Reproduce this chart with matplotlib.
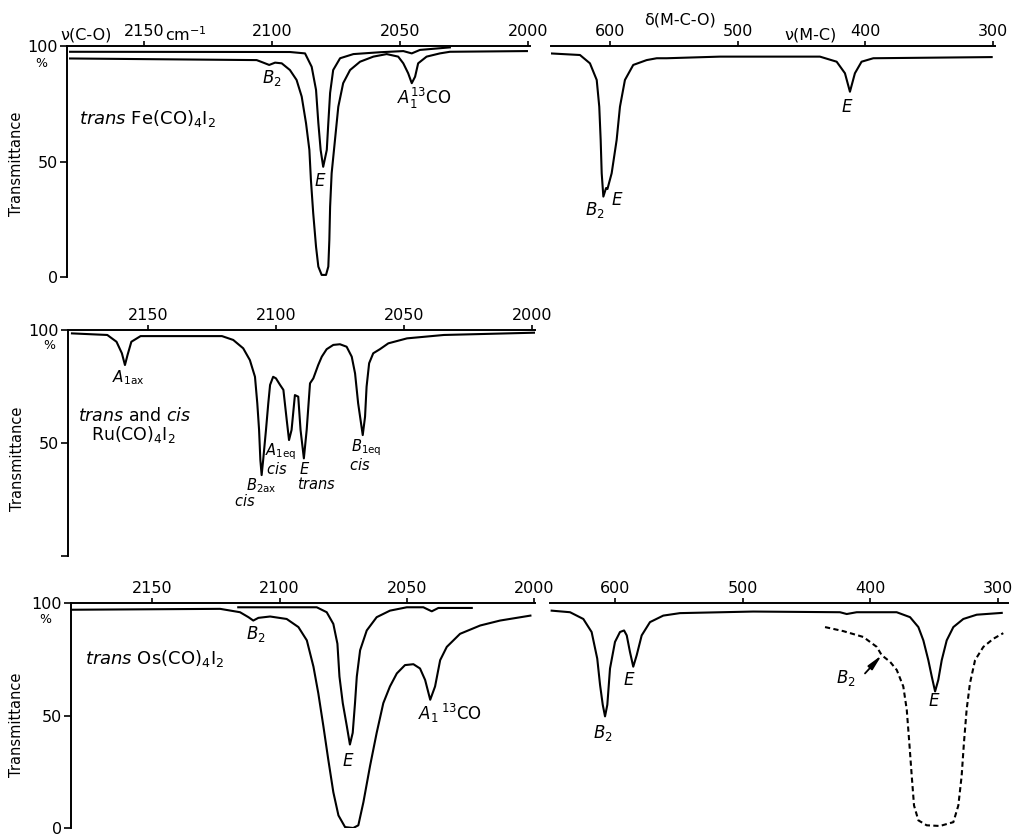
import matplotlib.pyplot as plt

plt.rcParams['font.family'] = ['DejaVu Sans']
plt.rcParams['mathtext.fontset'] = 'dejavusans'

# ---- values: wavenumber (cm-1) and transmittance (%) ----
T_TICKS = [0, 50, 100]
CO_TICKS = [2150, 2100, 2050, 2000]
LOW_TICKS = [600, 500, 400, 300]

# trans Fe(CO)4I2, C-O stretch: dilute trace (upper) and strong trace (lower)
fe_co_dil_wn = [2178.9, 2093.0, 2087.1, 2084.5, 2082.8, 2081.9, 2081.0, 2080.0, 2078.6, 2078.0,
                2077.3, 2076.1, 2073.4, 2068.2, 2057.8, 2048.7, 2045.4, 2042.2, 2030.5]
fe_co_dil_t = [97.5, 97.4, 96.8, 91.0, 81.0, 66.7, 55.0, 47.7, 55.0, 66.7,
               79.7, 89.6, 94.7, 96.5, 97.3, 97.8, 96.8, 98.3, 99.4]
fe_co_wn = [2178.9, 2106.0, 2103.4, 2101.1, 2098.8, 2096.2, 2093.0, 2090.4, 2088.4, 2086.7,
            2085.4, 2084.8, 2083.9, 2082.8, 2081.9, 2080.6, 2078.9, 2078.0, 2077.6, 2077.3,
            2076.7, 2075.4, 2074.1, 2072.2, 2069.5, 2065.6, 2060.4, 2055.2, 2050.7, 2048.7,
            2046.8, 2045.4, 2044.1, 2042.9, 2039.6, 2034.4, 2030.5, 2000.4]
fe_co_t = [94.6, 93.9, 92.8, 91.8, 92.8, 92.5, 89.6, 85.3, 78.1, 66.5,
           55.0, 42.0, 27.6, 13.1, 4.5, 0.9, 0.9, 4.5, 16.0, 30.4,
           44.9, 59.3, 73.7, 83.9, 89.6, 93.2, 95.4, 96.5, 95.4, 92.5,
           88.2, 83.9, 86.7, 92.5, 95.4, 96.8, 97.5, 97.8]
# trans Fe(CO)4I2, low-frequency region
fe_low_wn = [647.0, 623.5, 615.7, 610.4, 608.4, 607.3, 606.5, 605.2, 603.1, 602.0,
             598.7, 594.8, 592.2, 588.3, 581.8, 571.3, 563.4, 555.6, 513.9, 435.6,
             422.5, 416.0, 412.1, 408.2, 403.0, 393.8, 301.1]
fe_low_t = [96.8, 96.1, 92.5, 85.3, 73.7, 59.3, 44.9, 34.8, 38.5, 38.1,
            44.9, 59.3, 73.7, 85.3, 91.8, 93.9, 94.7, 94.7, 95.4, 95.4,
            93.2, 88.2, 80.2, 88.2, 93.2, 94.7, 95.2]

# trans and cis Ru(CO)4I2, C-O stretch
ru_co_wn = [2179.7, 2165.9, 2162.3, 2160.2, 2159.0, 2158.0, 2156.5, 2152.9, 2121.1, 2116.7,
            2112.8, 2110.2, 2108.2, 2107.3, 2106.6, 2106.1, 2105.6, 2105.0, 2103.9, 2103.0,
            2102.3, 2101.1, 2100.0, 2098.4, 2097.1, 2095.8, 2094.9, 2093.9, 2092.6, 2091.3,
            2090.4, 2089.1, 2088.0, 2086.7, 2085.4, 2083.5, 2082.1, 2080.2, 2077.6, 2075.0,
            2072.4, 2070.4, 2069.1, 2067.9, 2066.1, 2065.2, 2064.6, 2063.6, 2062.0, 2059.4,
            2056.1, 2048.8, 2034.4, 1999.2]
ru_co_t = [98.5, 97.8, 94.8, 89.7, 84.5, 88.9, 94.8, 97.3, 97.3, 95.6,
           91.9, 86.7, 79.3, 67.6, 55.8, 42.5, 35.8, 42.5, 55.8, 67.6,
           75.7, 79.3, 78.6, 75.7, 73.5, 60.2, 51.3, 55.8, 71.2, 70.5,
           55.8, 43.2, 55.8, 76.4, 78.6, 84.5, 88.2, 91.5, 93.4, 93.7,
           92.6, 88.2, 80.8, 67.6, 53.5, 61.6, 74.9, 85.3, 89.7, 91.5,
           94.1, 96.3, 97.8, 98.8]

# trans Os(CO)4I2, C-O stretch: dilute trace (upper) and strong trace (lower)
os_co_dil_wn = [2116.2, 2085.4, 2081.5, 2078.9, 2077.3, 2076.5, 2075.2, 2073.6, 2072.4, 2071.3,
                2070.4, 2069.7, 2068.4, 2065.8, 2061.9, 2056.7, 2050.1, 2043.6, 2040.3, 2037.7,
                2024.6]
os_co_dil_t = [98.1, 98.1, 95.9, 90.7, 81.9, 67.3, 55.5, 45.2, 37.1, 42.3,
               55.5, 67.3, 79.0, 87.8, 93.7, 96.6, 98.1, 98.1, 96.3, 97.8,
               97.8]
os_co_wn = [2181.9, 2123.3, 2115.5, 2112.2, 2110.3, 2108.3, 2103.7, 2097.2, 2092.6, 2089.3,
            2086.7, 2084.8, 2082.8, 2080.9, 2078.9, 2076.9, 2074.3, 2071.1, 2069.1, 2067.1,
            2064.5, 2061.9, 2059.3, 2056.7, 2054.0, 2050.8, 2047.5, 2044.9, 2042.9, 2040.9,
            2039.0, 2037.0, 2034.4, 2029.2, 2021.3, 2013.5, 2001.6]
os_co_t = [97.0, 97.4, 95.9, 93.7, 92.2, 93.4, 94.0, 92.9, 89.3, 83.4,
           71.7, 59.9, 45.2, 30.5, 15.9, 5.6, 0.4, 0.0, 1.2, 11.5,
           27.6, 42.3, 55.5, 62.9, 68.7, 72.4, 72.8, 70.9, 65.8, 57.0,
           62.9, 74.6, 80.5, 86.3, 90.0, 92.2, 94.4]
# trans Os(CO)4I2, low-frequency region: solid trace and dashed (strong) trace
os_low_wn = [649.6, 635.2, 624.8, 618.3, 613.9, 611.7, 609.6, 607.8, 606.0, 603.9,
             600.0, 596.1, 592.9, 590.8, 588.3, 585.7, 583.0, 579.1, 572.6, 562.2,
             549.1, 491.7, 423.8, 418.5, 410.7, 379.4, 368.9, 362.4, 358.5, 354.6,
             351.9, 349.3, 346.8, 344.1, 340.2, 335.0, 327.2, 316.7, 297.1]
os_low_t = [96.6, 95.9, 92.9, 87.1, 75.3, 63.6, 54.8, 49.6, 54.8, 70.9,
            82.7, 87.1, 87.8, 85.6, 78.3, 71.7, 76.8, 85.6, 91.5, 94.4,
            95.5, 96.2, 95.9, 95.1, 95.9, 95.9, 93.7, 89.3, 83.4, 74.6,
            67.3, 60.7, 65.8, 74.6, 83.4, 89.3, 92.9, 94.8, 95.6]
os_low_conc_wn = [435.5, 421.2, 405.5, 395.0, 391.1, 384.6, 379.3, 374.2, 371.5, 369.5,
                  367.6, 365.8, 362.4, 355.9, 345.5, 335.0, 331.1, 328.5, 326.7, 324.6,
                  322.0, 318.0, 311.5, 303.7, 295.9]
os_low_conc_t = [89.3, 87.5, 84.9, 80.5, 76.8, 73.9, 70.2, 62.9, 52.6, 37.9,
                 23.2, 10.0, 3.4, 1.2, 0.9, 2.6, 10.0, 23.2, 37.9, 52.6,
                 64.3, 74.6, 80.5, 84.1, 86.6]

# ---- figure ----
W, H = 1020, 835
fig = plt.figure(figsize=(W / 100, H / 100), dpi=100)
LW = 1.5
FS = 11.5


def place(x0, x1, y_top, y_bot):
    # axes box given in pixels of the 1020x835 canvas
    return fig.add_axes([x0 / W, 1 - y_bot / H, (x1 - x0) / W, (y_bot - y_top) / H])


def style(ax, xlim, xticks, ylabels=None, pad=2.0):
    ax.set_xlim(*xlim)
    ax.set_ylim(0, 100)
    ax.patch.set_visible(False)
    ax.spines["right"].set_visible(False)
    ax.spines["bottom"].set_visible(False)
    ax.spines["top"].set_linewidth(1.4)
    ax.xaxis.tick_top()
    ax.set_xticks(xticks)
    ax.tick_params(axis="x", direction="out", length=3.5, width=1.2, pad=pad, labelsize=FS)
    if ylabels is None:
        ax.spines["left"].set_visible(False)
        ax.set_yticks([])
    else:
        ax.spines["left"].set_linewidth(1.4)
        ax.set_yticks(T_TICKS)
        ax.set_yticklabels(ylabels)
        ax.tick_params(axis="y", direction="out", length=5, width=1.2, pad=1.5, labelsize=FS)


def ylab(ax, xfrac, yfrac, pct_wn, pct_t):
    ax.text(xfrac, yfrac, "Transmittance", transform=ax.transAxes, rotation=90,
            ha="center", va="center", fontsize=10.5)
    ax.text(pct_wn, pct_t, "%", ha="center", va="center", fontsize=9)


def lab(ax, x, y, s, fs=12, ha="center"):
    ax.text(x, y, s, ha=ha, va="center", fontsize=fs)


# --- panel 1: trans Fe(CO)4I2 ---
a1 = place(67, 530, 46, 277)
style(a1, (2180.1, 1999.2), CO_TICKS, ["0", "50", "100"], pad=1.8)
a1.plot(fe_co_dil_wn, fe_co_dil_t, color="k", lw=LW)
a1.plot(fe_co_wn, fe_co_t, color="k", lw=LW)
ylab(a1, -0.108, 0.49, 2190.2, 92.6)
lab(a1, 2172.7, 104.6, "ν(C-O)", fs=FS)
lab(a1, 2133.6, 104.9, "cm$^{-1}$", fs=FS)
lab(a1, 2100.0, 86.1, "$B_2$")
lab(a1, 2081.3, 41.6, "$E$")
lab(a1, 2040.6, 77.5, r"$A_1^{13}\mathrm{CO}$")
lab(a1, 2175.4, 68.8, r"$\mathit{trans}$ Fe(CO)$_4$I$_2$", fs=13, ha="left")

b1 = place(551, 995, 46, 277)
style(b1, (646.2, 298.5), LOW_TICKS, pad=1.8)
b1.plot(fe_low_wn, fe_low_t, color="k", lw=LW)
lab(b1, 545.2, 111.3, "δ(M-C-O)", fs=FS)
lab(b1, 442.6, 104.6, "ν(M-C)", fs=FS)
lab(b1, 611.7, 29.0, "$B_2$")
lab(b1, 594.5, 33.3, "$E$")
lab(b1, 414.4, 73.6, "$E$")

# --- panel 2: trans and cis Ru(CO)4I2 ---
a2 = place(68, 535, 330, 556)
style(a2, (2181.25, 1998.8), CO_TICKS, ["", "50", "100"], pad=1.5)
a2.plot(ru_co_wn, ru_co_t, color="k", lw=LW)
ylab(a2, -0.109, 0.43, 2188.7, 93.0)
lab(a2, 2157.8, 78.8, r"$A_{1\mathrm{ax}}$", fs=11)
lab(a2, 2177.3, 62.0, r"$\mathit{trans}$ and $\mathit{cis}$", fs=12.5, ha="left")
lab(a2, 2172.3, 53.8, "Ru(CO)$_4$I$_2$", fs=12.5, ha="left")
lab(a2, 2098.0, 46.0, r"$A_{1\mathrm{eq}}$", fs=10.5)
lab(a2, 2099.6, 38.6, r"$\mathit{cis}$", fs=10.5)
lab(a2, 2105.9, 31.0, r"$B_{2\mathrm{ax}}$", fs=10.5)
lab(a2, 2112.1, 24.4, r"$\mathit{cis}$", fs=10.5)
lab(a2, 2088.7, 38.6, "$E$", fs=10.5)
lab(a2, 2084.0, 31.8, r"$\mathit{trans}$", fs=10.5)
lab(a2, 2064.8, 48.0, r"$B_{1\mathrm{eq}}$", fs=10.5)
lab(a2, 2067.2, 40.3, r"$\mathit{cis}$", fs=10.5)

# --- panel 3: trans Os(CO)4I2 ---
a3 = place(71, 535, 603, 828)
style(a3, (2181.8, 1999.8), CO_TICKS, ["0", "50", "100"], pad=1.5)
a3.plot(os_co_dil_wn, os_co_dil_t, color="k", lw=LW)
a3.plot(os_co_wn, os_co_t, color="k", lw=LW)
ylab(a3, -0.117, 0.458, 2192.0, 92.6)
lab(a3, 2109.2, 86.3, "$B_2$")
lab(a3, 2073.1, 30.0, "$E$")
lab(a3, 2033.2, 51.1, r"$A_1\,^{13}\mathrm{CO}$")
lab(a3, 2176.3, 75.3, r"$\mathit{trans}$ Os(CO)$_4$I$_2$", fs=13, ha="left")

b3 = place(550, 1008, 603, 828)
style(b3, (650.9, 292.2), LOW_TICKS, pad=1.5)
b3.plot(os_low_wn, os_low_t, color="k", lw=LW)
b3.plot(os_low_conc_wn, os_low_conc_t, color="k", lw=LW, ls=(0, (2.5, 1.6)))
lab(b3, 609.4, 42.3, "$B_2$")
lab(b3, 589.0, 65.6, "$E$")
lab(b3, 350.1, 56.4, "$E$")
lab(b3, 419.1, 66.5, "$B_2$")
b3.annotate("", xy=(391.1, 76.8), xytext=(404.2, 68.7),
            arrowprops=dict(arrowstyle="-|>,head_length=0.9,head_width=0.18",
                            color="k", lw=1.3, shrinkA=0, shrinkB=0))

fig.savefig("out.png", dpi=100)
